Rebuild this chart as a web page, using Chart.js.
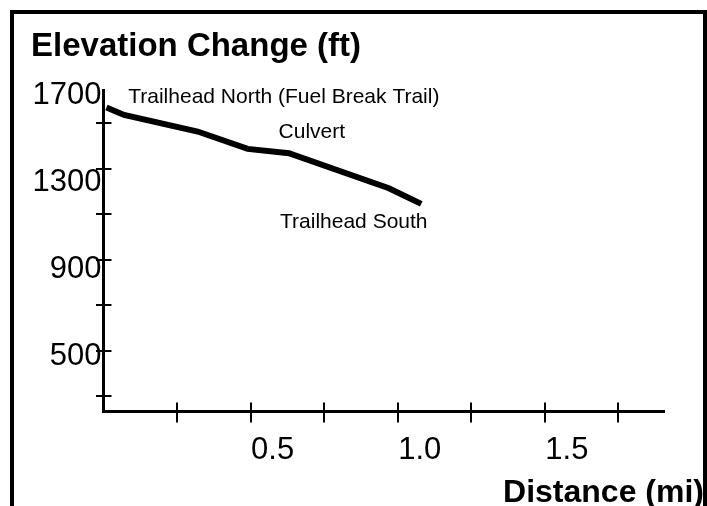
<!DOCTYPE html>
<html><head><meta charset="utf-8">
<script src="https://cdn.jsdelivr.net/npm/chart.js@4/dist/chart.umd.min.js"></script>
<style>
html,body{margin:0;padding:0;background:#fff;overflow:hidden;width:707px;height:506px;}
#frame{position:absolute;left:10px;top:10px;width:689px;height:520px;border:4px solid #000;border-bottom:none;}
#wrap{position:absolute;left:0;top:0;width:707px;height:506px;}
</style></head><body>
<div id="frame"></div>
<div id="wrap"><canvas id="c"></canvas></div>
<script>
// Data
const distances  = [0.01, 0.07, 0.32, 0.49, 0.63, 0.97, 1.08];   // miles
const elevations = [1643, 1609, 1533, 1453, 1433, 1272, 1200];   // feet
const xTickValues  = [0.25, 0.5, 0.75, 1.0, 1.25, 1.5, 1.75];
const xLabelValues = [0.5, 1.0, 1.5];
const yLabelValues = [500, 900, 1300, 1700];
const yTickValues  = [300, 500, 700, 900, 1100, 1300, 1500];
const placeNames = ['Trailhead North (Fuel Break Trail)', 'Culvert', 'Trailhead South'];
const placeX = [0.084, 0.595, 0.600];
const placeY = [1690, 1528, 1114];

const F = "'Liberation Sans', Arial, Helvetica, sans-serif";

const placeLabels = {
  id: 'placeLabels',
  afterDatasetsDraw(chart) {
    const {ctx, scales: {x, y}} = chart;
    ctx.save();
    ctx.font = '21px ' + F;
    ctx.fillStyle = '#000';
    ctx.textAlign = 'left';
    ctx.textBaseline = 'middle';
    placeNames.forEach((n, i) => ctx.fillText(n, x.getPixelForValue(placeX[i]), y.getPixelForValue(placeY[i])));
    ctx.restore();
  }
};

new Chart(document.getElementById('c'), {
  type: 'line',
  data: {
    datasets: [{
      data: distances.map((d, i) => ({x: d, y: elevations[i]})),
      xAxisID: 'x', yAxisID: 'y',
      borderColor: '#000', borderWidth: 6, pointRadius: 0, pointHoverRadius: 0,
      fill: false, tension: 0, borderCapStyle: 'butt', borderJoinStyle: 'miter'
    }]
  },
  options: {
    responsive: true, maintainAspectRatio: false, animation: false, events: [],
    layout: {padding: {left: 31, right: 3, top: 0, bottom: 0}},
    plugins: {
      legend: {display: false},
      tooltip: {enabled: false},
      title: {display: true, text: 'Elevation Change (ft)', align: 'start', color: '#000',
        font: {family: F, size: 33, weight: 'bold', lineHeight: 1}, padding: {top: 30.5, bottom: 26.5}},
      subtitle: {display: true, position: 'bottom', align: 'end', text: 'Distance (mi)', color: '#000',
        font: {family: F, size: 32, weight: 'bold', lineHeight: 0.8}, padding: {top: 9.2, bottom: 0.2}}
    },
    scales: {
      x: {
        type: 'linear', position: 'bottom', min: 0, max: 1.905,
        afterBuildTicks: a => { a.ticks = xTickValues.map(v => ({value: v})); },
        afterFit: a => { a.height = 59.5; },
        grid: {display: true, drawOnChartArea: true, drawTicks: true, tickLength: 11,
          color: '#000', lineWidth: 2, tickColor: '#000', tickWidth: 2},
        border: {display: true, color: '#000', width: 3, dash: [9, 10000],
          dashOffset: c => { const a = c.chart.chartArea; return a ? 10018 - (a.bottom - a.top) : 0; }},
        ticks: {autoSkip: false, maxRotation: 0, minRotation: 0, color: '#000',
          font: {family: F, size: 31}, padding: 9, labelOffset: 22,
          callback: v => xLabelValues.includes(v) ? v.toFixed(1) : ''}
      },
      y: {
        type: 'linear', position: 'left', min: 245, max: 1724,
        afterBuildTicks: a => { a.ticks = yLabelValues.map(v => ({value: v})); },
        afterFit: a => { a.width = 72.5; },
        grid: {display: false, drawTicks: false, tickLength: 0},
        border: {display: true, color: '#000', width: 3},
        ticks: {color: '#000', font: {family: F, size: 31}, padding: 2, callback: v => String(v)}
      },
      yTicks: {
        type: 'linear', position: {x: 0}, min: 234, max: 1645,
        afterBuildTicks: a => { a.ticks = yTickValues.map(v => ({value: v})); },
        grid: {display: true, drawOnChartArea: true, drawTicks: true, tickLength: 8,
          color: '#000', lineWidth: 2, tickColor: '#000', tickWidth: 2},
        border: {display: false, dash: [8, 10000], dashOffset: 0},
        ticks: {display: false}
      },
      yRight: {
        type: 'linear', position: 'right', min: 0, max: 1,
        afterFit: a => { a.width = 40; },
        grid: {display: false, drawTicks: false}, border: {display: false}, ticks: {display: false}
      }
    }
  },
  plugins: [placeLabels]
});
</script>
</body></html>
